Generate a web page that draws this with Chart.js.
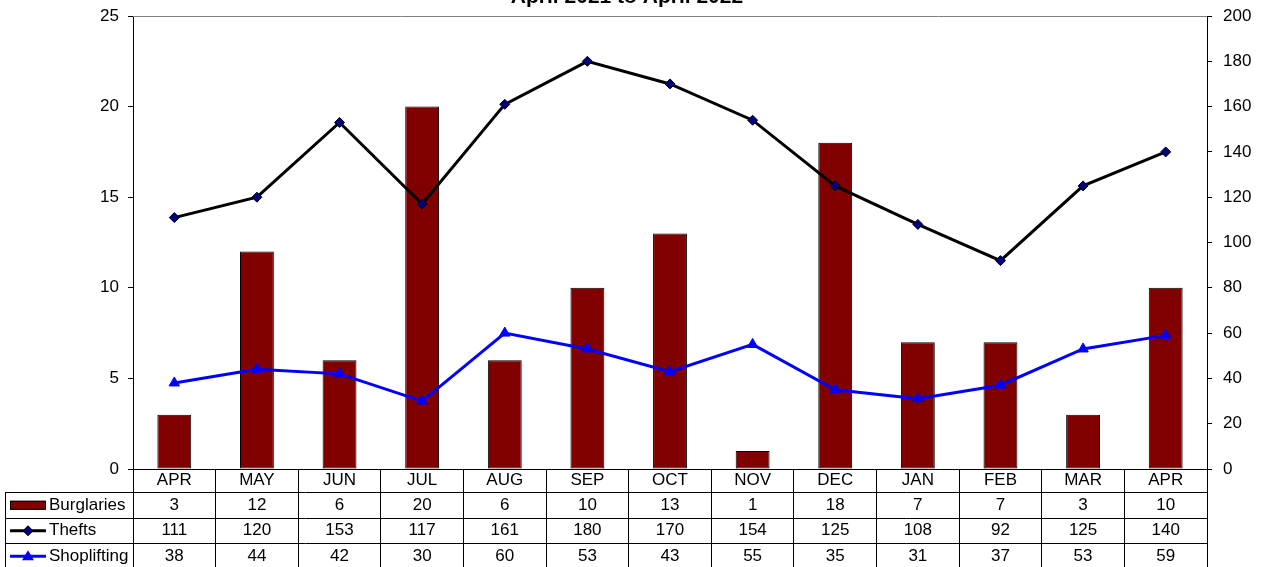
<!DOCTYPE html>
<html>
<head>
<meta charset="utf-8">
<script src="https://cdn.jsdelivr.net/npm/chart.js@4/dist/chart.umd.min.js"></script>
<style>
  html, body { margin: 0; padding: 0; background: #fff; overflow: hidden; }
  canvas { display: block; }
</style>
</head>
<body>
<canvas id="crime-chart" width="1262" height="567"></canvas>
<script>
const months = ['APR', 'MAY', 'JUN', 'JUL', 'AUG', 'SEP', 'OCT', 'NOV', 'DEC', 'JAN', 'FEB', 'MAR', 'APR'];
const burglaries = [3, 12, 6, 20, 6, 10, 13, 1, 18, 7, 7, 3, 10];
const thefts = [111, 120, 153, 117, 161, 180, 170, 154, 125, 108, 92, 125, 140];
const shoplifting = [38, 44, 42, 30, 60, 53, 43, 55, 35, 31, 37, 53, 59];
const titleText = 'April 2021 to April 2022';

const fontFamily = "'Liberation Sans', Arial, sans-serif";
const barColor = '#800000';
const theftColor = '#000000';
const theftPoint = '#000080';
const shopColor = '#0000ff';

// title sits half off the top edge, like in the original picture
const titlePlugin = {
  id: 'cutTitle',
  afterDraw(chart) {
    const ctx = chart.ctx;
    ctx.save();
    ctx.font = 'bold 21px ' + fontFamily;
    ctx.fillStyle = '#000';
    ctx.textAlign = 'center';
    ctx.textBaseline = 'alphabetic';
    ctx.fillText(titleText, 627, 3);
    ctx.restore();
  }
};

const framePlugin = {
  id: 'frame',
  beforeDatasetsDraw(chart) {
    const a = chart.chartArea;
    const ctx = chart.ctx;
    ctx.save();
    ctx.strokeStyle = '#808080';
    ctx.lineWidth = 1;
    ctx.beginPath();
    ctx.moveTo(a.left, a.top + 0.5);
    ctx.lineTo(a.right, a.top + 0.5);
    ctx.stroke();
    ctx.restore();
  }
};

function drawKey(ctx, kind, x, y) {
  ctx.save();
  if (kind === 'bar') {
    ctx.fillStyle = barColor;
    ctx.strokeStyle = '#000';
    ctx.lineWidth = 1;
    ctx.fillRect(x, y - 4.5, 36, 9);
    ctx.strokeRect(x + 0.5, y - 4, 35, 8);
  } else {
    ctx.strokeStyle = kind === 'diamond' ? theftColor : shopColor;
    ctx.lineWidth = 3;
    ctx.beginPath();
    ctx.moveTo(x, y);
    ctx.lineTo(x + 36, y);
    ctx.stroke();
    const cx = x + 18;
    ctx.beginPath();
    if (kind === 'diamond') {
      ctx.moveTo(cx, y - 5); ctx.lineTo(cx + 5, y); ctx.lineTo(cx, y + 5); ctx.lineTo(cx - 5, y);
      ctx.closePath();
      ctx.fillStyle = theftPoint;
      ctx.fill();
      ctx.lineWidth = 1;
      ctx.strokeStyle = '#000';
      ctx.stroke();
    } else {
      ctx.moveTo(cx, y - 6); ctx.lineTo(cx + 6, y + 4); ctx.lineTo(cx - 6, y + 4);
      ctx.closePath();
      ctx.fillStyle = shopColor;
      ctx.fill();
    }
  }
  ctx.restore();
}

const tablePlugin = {
  id: 'dataTable',
  afterDraw(chart) {
    const ctx = chart.ctx;
    const a = chart.chartArea;
    const xs = chart.scales.x;
    const headerH = 23;
    const rowH = 25.5;
    const tableLeft = 5;
    const rows = [
      { name: 'Burglaries', values: burglaries, key: 'bar' },
      { name: 'Thefts', values: thefts, key: 'diamond' },
      { name: 'Shoplifting', values: shoplifting, key: 'triangle' }
    ];
    ctx.save();
    ctx.strokeStyle = '#000';
    ctx.lineWidth = 1;
    const firstTop = a.bottom + headerH;
    // horizontal row lines
    for (let r = 0; r < rows.length; r++) {
      const y = Math.round(firstTop + r * rowH) + 0.5;
      ctx.beginPath();
      ctx.moveTo(tableLeft, y);
      ctx.lineTo(a.right, y);
      ctx.stroke();
    }
    ctx.beginPath();
    ctx.moveTo(tableLeft + 0.5, firstTop);
    ctx.lineTo(tableLeft + 0.5, chart.height);
    ctx.stroke();

    ctx.font = '17px ' + fontFamily;
    ctx.fillStyle = '#000';
    ctx.textBaseline = 'middle';
    rows.forEach((row, r) => {
      const cy = firstTop + r * rowH + rowH / 2 + 0.5;
      drawKey(ctx, row.key, tableLeft + 5, cy);
      ctx.textAlign = 'left';
      ctx.fillText(row.name, tableLeft + 44, cy);
      ctx.textAlign = 'center';
      row.values.forEach((v, i) => {
        ctx.fillText(String(v), xs.getPixelForValue(i), cy);
      });
    });
    ctx.restore();
  }
};

const config = {
  data: {
    labels: months,
    datasets: [
      {
        type: 'line',
        label: 'Thefts',
        data: thefts,
        yAxisID: 'y2',
        borderColor: theftColor,
        borderWidth: 3,
        pointStyle: 'rectRot',
        pointRadius: 5,
        pointBackgroundColor: theftPoint,
        pointBorderColor: '#000',
        pointBorderWidth: 1,
        tension: 0,
        order: 1
      },
      {
        type: 'line',
        label: 'Shoplifting',
        data: shoplifting,
        yAxisID: 'y2',
        borderColor: shopColor,
        borderWidth: 3,
        pointStyle: 'triangle',
        pointRadius: 6,
        pointBackgroundColor: shopColor,
        pointBorderColor: shopColor,
        pointBorderWidth: 1,
        tension: 0,
        order: 2
      },
      {
        type: 'bar',
        label: 'Burglaries',
        data: burglaries,
        yAxisID: 'y',
        backgroundColor: barColor,
        borderColor: '#000',
        borderWidth: 1,
        borderSkipped: false,
        categoryPercentage: 1,
        barPercentage: 0.41,
        order: 3
      }
    ]
  },
  options: {
    responsive: false,
    animation: false,
    devicePixelRatio: 1,
    layout: { padding: { top: 16, left: 0, right: 0, bottom: 0 } },
    plugins: {
      legend: { display: false },
      title: { display: false },
      tooltip: { enabled: false }
    },
    scales: {
      x: {
        offset: true,
        grid: {
          offset: true,
          drawOnChartArea: false,
          color: '#000',
          tickLength: 98
        },
        border: { color: '#000' },
        ticks: {
          color: '#000',
          font: { family: fontFamily, size: 17 },
          padding: -97,
          maxRotation: 0,
          autoSkip: false
        },
        afterFit(s) { s.height = 98; }
      },
      y: {
        position: 'left',
        min: 0,
        max: 25,
        ticks: {
          stepSize: 5,
          color: '#000',
          font: { family: fontFamily, size: 17, lineHeight: 0.5 },
          padding: 9
        },
        grid: { drawOnChartArea: false, color: '#000', tickLength: 5 },
        border: { color: '#000' },
        afterFit(s) { s.width = 133; }
      },
      y2: {
        position: 'right',
        min: 0,
        max: 200,
        ticks: {
          stepSize: 20,
          color: '#000',
          font: { family: fontFamily, size: 17, lineHeight: 0.5 },
          padding: 11
        },
        grid: { drawOnChartArea: false, color: '#000', tickLength: 5 },
        border: { color: '#000' },
        afterFit(s) { s.width = 55; }
      }
    }
  },
  plugins: [framePlugin, tablePlugin, titlePlugin]
};

const crimeChart = new Chart(document.getElementById('crime-chart'), config);
</script>
</body>
</html>
